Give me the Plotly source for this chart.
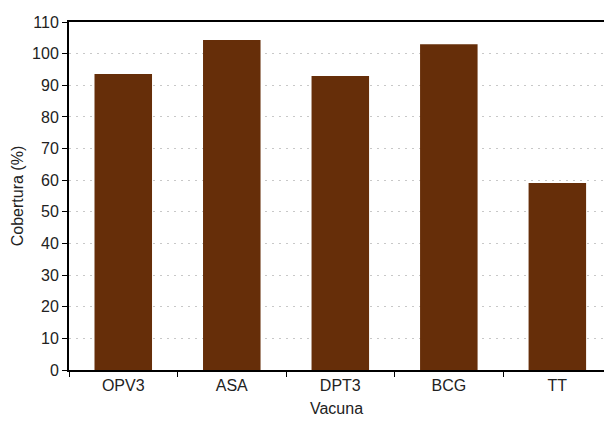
import plotly.graph_objects as go

vacunas = ["OPV3", "ASA", "DPT3", "BCG", "TT"]
cobertura = [93.6, 104.3, 92.9, 103.0, 59.1]
y_ticks = list(range(0, 111, 10))

FONT = "Liberation Sans Narrow, Arial Narrow, Liberation Sans, sans-serif"

fig = go.Figure(
    go.Bar(
        x=vacunas,
        y=cobertura,
        marker=dict(color="#662E09", line=dict(width=0)),
        width=0.53,
    )
)

fig.update_layout(
    width=604,
    height=421,
    margin=dict(l=69, r=0, t=22, b=51),
    paper_bgcolor="white",
    plot_bgcolor="white",
    font=dict(family=FONT, size=16, color="#222222"),
    showlegend=False,
    bargap=0.47,
)

fig.update_xaxes(
    type="category",
    range=[-0.5, 4.43],
    showline=True,
    linecolor="black",
    linewidth=2,
    mirror=True,
    ticks="outside",
    tickson="boundaries",
    ticklen=5,
    tickcolor="black",
    tickwidth=1,
    showgrid=False,
    title=dict(text="Vacuna", standoff=10, font=dict(size=16)),
)

fig.update_yaxes(
    range=[0, 110],
    tickvals=y_ticks,
    showline=True,
    linecolor="black",
    linewidth=2,
    ticks="outside",
    ticklen=5,
    tickcolor="black",
    tickwidth=1,
    showgrid=True,
    gridcolor="#c8c8c8",
    griddash="2px,5px",
    gridwidth=1,
    zeroline=False,
    title=dict(text="Cobertura (%)", standoff=4, font=dict(size=16)),
)

fig.write_html("out.html")
